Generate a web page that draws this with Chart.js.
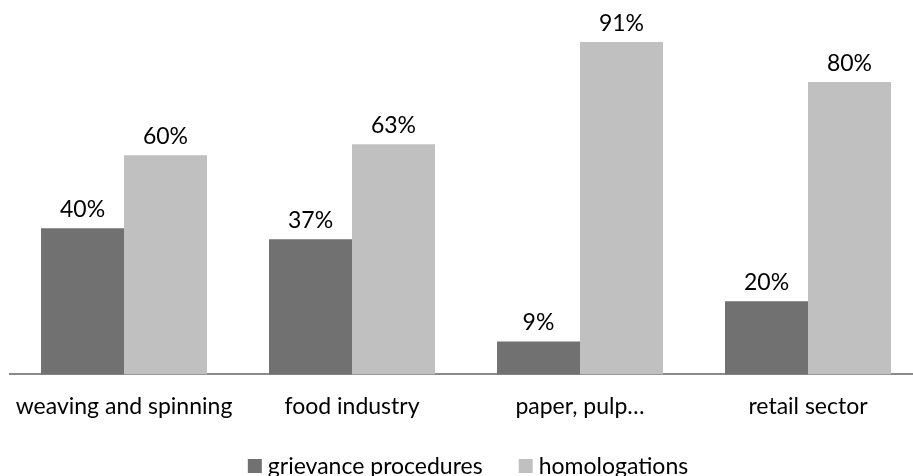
<!DOCTYPE html>
<html>
<head>
<meta charset="utf-8">
<script src="https://cdn.jsdelivr.net/npm/chart.js@4/dist/chart.umd.min.js"></script>
<style>
  html, body { margin: 0; padding: 0; background: #fff; overflow: hidden; }
  #wrap { width: 922px; height: 476px; }
</style>
</head>
<body>
<div id="wrap"><canvas id="bars"></canvas></div>
<script>
const sectors = ['weaving and spinning', 'food industry', 'paper, pulp\u2026', 'retail sector']
const grievance = [40, 37, 9, 20]
const homologations = [60, 63, 91, 80]

const FONT = 'Lato, "Open Sans", sans-serif'
const FONT_SIZE = 23

// percent labels above every bar
const valueLabels = {
  id: 'valueLabels',
  afterDatasetsDraw(chart) {
    const ctx = chart.ctx
    ctx.save()
    ctx.font = FONT_SIZE + 'px ' + FONT
    ctx.fillStyle = '#000'
    ctx.textAlign = 'center'
    ctx.textBaseline = 'bottom'
    chart.data.datasets.forEach((ds, i) => {
      chart.getDatasetMeta(i).data.forEach((bar, j) => {
        ctx.fillText(ds.data[j] + '%', bar.x, bar.y - 7)
      })
    })
    ctx.restore()
  }
}

// legend row under the axis, square swatch + label per dataset
const bottomLegend = {
  id: 'bottomLegend',
  afterDraw(chart, args, opts) {
    const ctx = chart.ctx
    ctx.save()
    ctx.font = FONT_SIZE + 'px ' + FONT
    ctx.textBaseline = 'middle'
    const items = chart.data.datasets.map(ds => ({
      text: ds.label,
      color: ds.backgroundColor,
      w: opts.box + opts.gap + ctx.measureText(ds.label).width
    }))
    const total = items.reduce((s, it) => s + it.w, 0) + opts.spacing * (items.length - 1)
    let x = opts.center - total / 2
    items.forEach(it => {
      ctx.fillStyle = it.color
      ctx.fillRect(x, opts.y - opts.box / 2, opts.box, opts.box)
      ctx.fillStyle = '#000'
      ctx.fillText(it.text, x + opts.box + opts.gap, opts.y + 1)
      x += it.w + opts.spacing
    })
    ctx.restore()
  }
}

new Chart(document.getElementById('bars'), {
  type: 'bar',
  data: {
    labels: sectors,
    datasets: [
      { label: 'grievance procedures', data: grievance, backgroundColor: '#717171' },
      { label: 'homologations', data: homologations, backgroundColor: '#c0c0c0' }
    ]
  },
  options: {
    responsive: true,
    maintainAspectRatio: false,
    animation: false,
    categoryPercentage: 0.728,
    barPercentage: 1,
    layout: { padding: { left: 10, right: 0, top: 9, bottom: 46 } },
    plugins: {
      legend: { display: false },
      tooltip: { enabled: false },
      bottomLegend: { center: 468, y: 466, box: 14, gap: 6, spacing: 36 }
    },
    scales: {
      x: {
        grid: { display: false },
        border: { color: '#8a8a8a', width: 2 },
        ticks: { color: '#000', font: { family: FONT, size: FONT_SIZE }, padding: 10 }
      },
      y: { display: false, min: 0, max: 100 }
    }
  },
  plugins: [valueLabels, bottomLegend]
})
</script>
</body>
</html>
